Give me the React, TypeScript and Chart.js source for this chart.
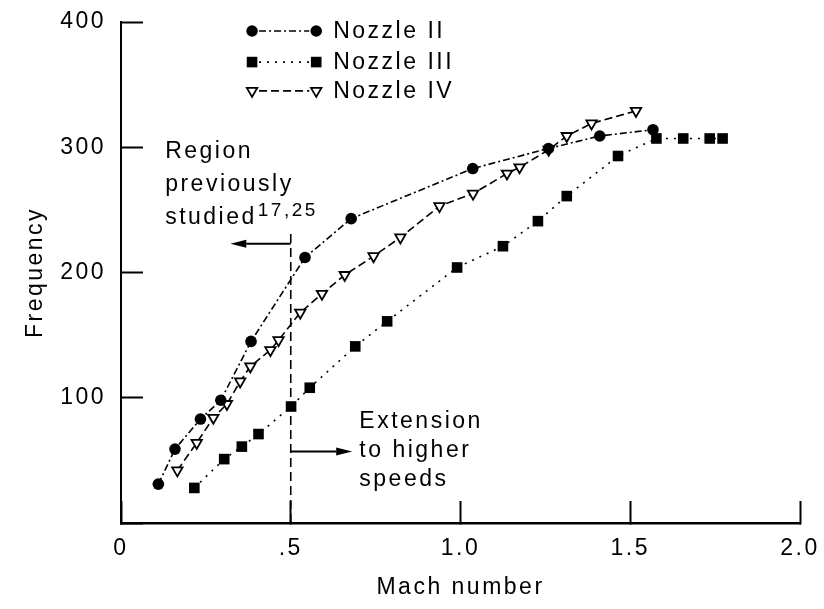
import React, { useEffect, useRef } from 'react';
import { Chart, registerables } from 'chart.js';

Chart.register(...registerables);

// Measured acoustic frequency against jet Mach number for three nozzles
const nozzle2Mach = [0.11, 0.159, 0.234, 0.294, 0.383, 0.542, 0.678, 1.036, 1.259, 1.41, 1.567];
const nozzle2Freq = [31, 59, 83, 98, 145, 212, 243, 283, 299, 309, 314];

const nozzle3Mach = [0.216, 0.304, 0.356, 0.405, 0.501, 0.556, 0.69, 0.784, 0.99, 1.125, 1.228, 1.313, 1.464, 1.577, 1.656, 1.734, 1.772];
const nozzle3Freq = [28, 51, 61, 71, 93, 108, 141, 161, 204, 221, 241, 261, 293, 307, 307, 307, 307];

const nozzle4Mach = [0.166, 0.223, 0.272, 0.312, 0.351, 0.381, 0.44, 0.464, 0.528, 0.592, 0.659, 0.744, 0.823, 0.938, 1.037, 1.137, 1.174, 1.26, 1.313, 1.386, 1.517];
const nozzle4Freq = [42, 64, 84, 95, 113, 125, 138, 146, 168, 183, 198, 213, 228, 253, 263, 279, 284, 298, 309, 319, 329];

const seriesNames = ['Nozzle II', 'Nozzle III', 'Nozzle IV'];

const xTickValues = [0, 0.5, 1.0, 1.5, 2.0];
const xTickLabels = ['0', '.5', '1.0', '1.5', '2.0'];
const yTickValues = [0, 100, 200, 300, 400];
const yTickLabels = ['', '100', '200', '300', '400'];

// Boundary between the previously studied range and the extension
const boundaryMach = 0.5;
const boundaryTopFreq = 231;
const leftArrowFreq = 223;
const leftArrowEndMach = 0.322;
const rightArrowFreq = 57;
const rightArrowEndMach = 0.681;

const FONT_FAMILY = '"Liberation Sans", Arial, Helvetica, sans-serif';
const INK = '#000';

type MarkerKind = 'circle' | 'rect' | 'triangleDown';

function drawMarker(ctx: CanvasRenderingContext2D, kind: MarkerKind, x: number, y: number) {
  ctx.save();
  ctx.setLineDash([]);
  ctx.strokeStyle = INK;
  ctx.fillStyle = INK;
  ctx.lineWidth = 1.8;
  if (kind === 'circle') {
    ctx.beginPath();
    ctx.arc(x, y, 5.8, 0, Math.PI * 2);
    ctx.fill();
  } else if (kind === 'rect') {
    const h = 5.3;
    ctx.fillRect(x - h, y - h, 2 * h, 2 * h);
  } else {
    const r = 6;
    ctx.beginPath();
    ctx.moveTo(x, y + r);
    ctx.lineTo(x - r * 0.866, y - r / 2);
    ctx.lineTo(x + r * 0.866, y - r / 2);
    ctx.closePath();
    ctx.fillStyle = '#fff';
    ctx.fill();
    ctx.stroke();
  }
  ctx.restore();
}

function arrow(ctx: CanvasRenderingContext2D, x0: number, x1: number, y: number) {
  const dir = Math.sign(x1 - x0);
  const head = 16;
  ctx.save();
  ctx.setLineDash([]);
  ctx.strokeStyle = INK;
  ctx.fillStyle = INK;
  ctx.lineWidth = 2;
  ctx.beginPath();
  ctx.moveTo(x0, y);
  ctx.lineTo(x1 - dir * head, y);
  ctx.stroke();
  ctx.beginPath();
  ctx.moveTo(x1, y);
  ctx.lineTo(x1 - dir * head, y - 4);
  ctx.lineTo(x1 - dir * head, y + 4);
  ctx.closePath();
  ctx.fill();
  ctx.restore();
}

const lineStyles: { kind: MarkerKind; dash: number[] }[] = [
  { kind: 'circle', dash: [7, 3, 2, 3] },
  { kind: 'rect', dash: [2, 6] },
  { kind: 'triangleDown', dash: [8, 4] },
];

const typographyPlugin = {
  id: 'typography',
  beforeDraw(chart: any) {
    chart.ctx.letterSpacing = '2.5px';
  },
};

const annotationPlugin = {
  id: 'annotations',
  afterDatasetsDraw(chart: any) {
    const { ctx } = chart;
    const xs = chart.scales.x;
    const ys = chart.scales.y;
    const px = (m: number) => xs.getPixelForValue(m);
    const py = (f: number) => ys.getPixelForValue(f);

    ctx.save();
    ctx.letterSpacing = '2.5px';

    // dashed boundary at Mach 0.5
    const bx = px(boundaryMach);
    ctx.strokeStyle = INK;
    ctx.lineWidth = 1.6;
    ctx.setLineDash([9, 5]);
    ctx.beginPath();
    ctx.moveTo(bx, py(0));
    ctx.lineTo(bx, py(boundaryTopFreq));
    ctx.stroke();

    arrow(ctx, bx, px(leftArrowEndMach), py(leftArrowFreq));
    arrow(ctx, bx, px(rightArrowEndMach), py(rightArrowFreq));

    ctx.fillStyle = INK;
    ctx.textAlign = 'left';
    ctx.textBaseline = 'alphabetic';
    ctx.font = `23px ${FONT_FAMILY}`;

    // left-hand note
    const rx = px(0.13);
    const ry = py(291.6);
    ctx.fillText('Region', rx, ry);
    ctx.fillText('previously', rx, ry + 33);
    ctx.fillText('studied', rx, ry + 66);
    const sw = ctx.measureText('studied').width;
    ctx.font = `19px ${FONT_FAMILY}`;
    ctx.fillText('17,25', rx + sw + 1, ry + 58);

    // right-hand note
    ctx.font = `23px ${FONT_FAMILY}`;
    const ex = px(0.702);
    const ey = py(75.7);
    ctx.fillText('Extension', ex, ey);
    ctx.fillText('to higher', ex, ey + 29);
    ctx.fillText('speeds', ex, ey + 58);

    // legend
    const lx0 = px(0.386);
    const lx1 = px(0.575);
    const tx = px(0.625);
    const rows = [392.8, 368, 345];
    ctx.textBaseline = 'middle';
    seriesNames.forEach((name, i) => {
      const y = py(rows[i]);
      ctx.save();
      ctx.strokeStyle = INK;
      ctx.lineWidth = 1.6;
      ctx.setLineDash(lineStyles[i].dash);
      ctx.beginPath();
      ctx.moveTo(lx0 + 7, y);
      ctx.lineTo(lx1 - 7, y);
      ctx.stroke();
      ctx.restore();
      drawMarker(ctx, lineStyles[i].kind, lx0, y);
      drawMarker(ctx, lineStyles[i].kind, lx1, y);
      ctx.fillStyle = INK;
      ctx.fillText(name, tx, y + 1);
    });

    ctx.restore();
  },
};

function toPoints(xs: number[], ys: number[]) {
  return xs.map((x, i) => ({ x, y: ys[i] }));
}

export default function App() {
  const canvasRef = useRef<HTMLCanvasElement | null>(null);

  useEffect(() => {
    const canvas = canvasRef.current;
    if (!canvas) return;
    const font = { family: FONT_FAMILY, size: 23 };

    const base = {
      borderColor: INK,
      borderWidth: 1.6,
      fill: false,
      tension: 0,
      pointBorderColor: INK,
      pointHoverRadius: 6,
    };

    const chart = new Chart(canvas, {
      type: 'line',
      data: {
        datasets: [
          {
            ...base,
            label: seriesNames[0],
            data: toPoints(nozzle2Mach, nozzle2Freq),
            borderDash: lineStyles[0].dash,
            pointStyle: 'circle',
            pointRadius: 5.8,
            pointBackgroundColor: INK,
            pointBorderWidth: 0,
          },
          {
            ...base,
            label: seriesNames[1],
            data: toPoints(nozzle3Mach, nozzle3Freq),
            borderDash: lineStyles[1].dash,
            pointStyle: 'rect',
            pointRadius: 7.5,
            pointBackgroundColor: INK,
            pointBorderWidth: 0,
          },
          {
            ...base,
            label: seriesNames[2],
            data: toPoints(nozzle4Mach, nozzle4Freq),
            borderDash: lineStyles[2].dash,
            pointStyle: 'triangle',
            rotation: 180,
            pointRotation: 180,
            pointRadius: 6,
            pointBackgroundColor: '#fff',
            pointBorderWidth: 1.8,
          },
        ],
      },
      options: {
        animation: false,
        responsive: false,
        devicePixelRatio: 1,
        layout: { padding: { top: 22, right: 24, left: 0, bottom: 0 } },
        plugins: {
          legend: { display: false },
          tooltip: { enabled: false },
        },
        scales: {
          x: {
            type: 'linear',
            position: 'bottom',
            min: 0,
            max: 2,
            afterBuildTicks: (s: any) => {
              s.ticks = xTickValues.map((v) => ({ value: v }));
            },
            afterFit: (s: any) => {
              s.height = 86;
              s.paddingLeft = 0;
              s.paddingRight = 0;
            },
            ticks: {
              autoSkip: false,
              maxRotation: 0,
              padding: 34,
              color: INK,
              font,
              callback: (_v: any, i: number) => xTickLabels[i],
            },
            grid: {
              drawOnChartArea: false,
              drawTicks: true,
              tickLength: -22,
              tickWidth: 2,
              color: INK,
            },
            border: { display: true, color: INK, width: 2.5 },
            title: {
              display: true,
              text: 'Mach number',
              color: INK,
              font,
              padding: { top: 0, bottom: 8 },
            },
          },
          y: {
            type: 'linear',
            position: 'left',
            min: 0,
            max: 400,
            afterBuildTicks: (s: any) => {
              s.ticks = yTickValues.map((v) => ({ value: v }));
            },
            afterFit: (s: any) => {
              s.width = 121;
              s.paddingTop = 0;
              s.paddingBottom = 0;
            },
            ticks: {
              autoSkip: false,
              padding: 37,
              color: INK,
              font,
              callback: (_v: any, i: number) => yTickLabels[i],
            },
            grid: {
              drawOnChartArea: false,
              drawTicks: true,
              tickLength: -22,
              tickWidth: 2,
              color: INK,
            },
            border: { display: true, color: INK, width: 2 },
            title: {
              display: true,
              text: 'Frequency',
              color: INK,
              font,
              padding: { top: 22, bottom: 0 },
            },
          },
        },
      },
      plugins: [typographyPlugin, annotationPlugin],
    } as any);

    return () => chart.destroy();
  }, []);

  return (
    <div style={{ position: 'fixed', left: 0, top: 0, width: 824, height: 609, background: '#fff' }}>
      <canvas ref={canvasRef} width={824} height={609} style={{ display: 'block', width: 824, height: 609 }} />
    </div>
  );
}
